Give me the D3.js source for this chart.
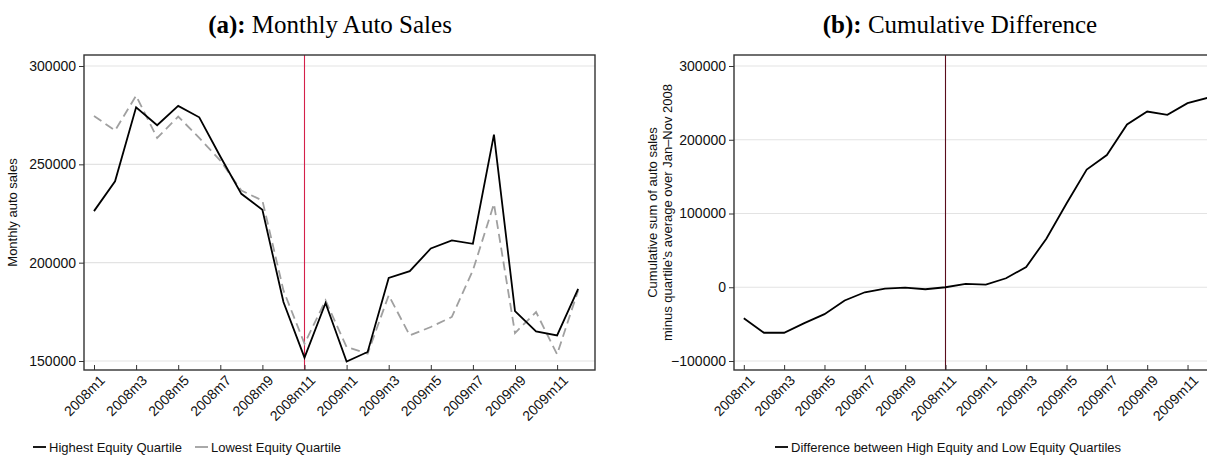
<!DOCTYPE html>
<html><head><meta charset="utf-8">
<script src="https://cdn.jsdelivr.net/npm/d3@7"></script>
<style>
body{margin:0;background:#fff}
text{font-family:"Liberation Sans",Arial,sans-serif}
.title{font-family:"Liberation Serif","DejaVu Serif",serif;font-size:25px}
</style></head><body>
<svg id="c" width="1207" height="459"></svg>
<script>
const months = ["2008m1","2008m2","2008m3","2008m4","2008m5","2008m6","2008m7","2008m8","2008m9","2008m10","2008m11","2008m12",
  "2009m1","2009m2","2009m3","2009m4","2009m5","2009m6","2009m7","2009m8","2009m9","2009m10","2009m11","2009m12"];
const highEquity = [226200,241400,279000,269900,279700,273900,254000,235000,226900,180000,151700,179500,
  149700,154600,192200,195700,207200,211300,209600,265100,175400,165100,163000,186700];
const lowEquity = [274600,267200,284900,263400,274300,263400,251900,236700,231600,185900,158800,180800,
  157100,153700,183400,163000,167300,172400,196100,229900,164200,174900,153400,185900];
const cumDiff = [-41900,-61700,-61700,-48600,-36500,-18000,-6800,-1800,-500,-2700,0,4500,
  3600,12200,27500,65800,113500,159500,179300,220700,238300,233800,249600,256800];
const tickMonths = months.filter((d, i) => i % 2 === 0);
const leftTicks = [150000, 200000, 250000, 300000];
const rightTicks = [-100000, 0, 100000, 200000, 300000];

const svg = d3.select("#c");

function panel(opt) {
  const g = svg.append("g");
  const x = d3.scalePoint().domain(months).range([opt.x0, opt.x0 + opt.step * 23]);
  const y = d3.scaleLinear().domain(opt.ydom).range(opt.yrange);
  const top = 55, bottom = 370;
  g.selectAll(".grid").data(opt.yticks).join("line")
    .attr("x1", opt.fl).attr("x2", opt.fr)
    .attr("y1", d => y(d)).attr("y2", d => y(d))
    .attr("stroke", "#e3e3e3").attr("stroke-width", 1.2);
  g.append("line").attr("x1", x("2008m11")).attr("x2", x("2008m11"))
    .attr("y1", top).attr("y2", bottom).attr("stroke", opt.vcol).attr("stroke-width", 1.1);
  const line = d3.line().x((d, i) => x(months[i])).y(d => y(d));
  opt.series.forEach(s => {
    g.append("path").datum(s.data).attr("d", line).attr("fill", "none")
      .attr("stroke", s.color).attr("stroke-width", 1.8)
      .attr("stroke-dasharray", s.dash || null);
  });
  g.append("rect").attr("x", opt.fl).attr("y", top).attr("width", opt.fr - opt.fl).attr("height", bottom - top)
    .attr("fill", "none").attr("stroke", "#333").attr("stroke-width", 1.4);
  const ya = g.append("g").attr("transform", `translate(${opt.fl},0)`)
    .call(d3.axisLeft(y).tickValues(opt.yticks).tickSize(5).tickPadding(3).tickFormat(d => d < 0 ? "\u2212" + Math.abs(d) : d));
  ya.select(".domain").remove();
  ya.selectAll("text").attr("font-size", 14).attr("fill", "#111").attr("font-family", "Liberation Sans, Arial, sans-serif");
  ya.selectAll("line").attr("stroke", "#333");
  const xa = g.append("g").attr("transform", `translate(0,${bottom})`)
    .call(d3.axisBottom(x).tickValues(tickMonths).tickSize(-5).tickPadding(4));
  xa.select(".domain").remove();
  xa.selectAll("line").attr("stroke", "#333");
  xa.selectAll("text").attr("font-size", 14).attr("fill", "#111").attr("font-family", "Liberation Sans, Arial, sans-serif")
    .attr("text-anchor", "end").attr("dy", "0.35em")
    .attr("transform", "translate(5,5) rotate(-45)");
  const t = svg.append("text").attr("class", "title").attr("x", opt.tx).attr("y", 33).attr("text-anchor", "middle");
  t.append("tspan").attr("font-weight", "bold").text(opt.tag);
  t.append("tspan").text(" " + opt.title);
  opt.ylab.forEach((l, i) => {
    svg.append("text").attr("transform", `translate(${opt.ylx + i * 15},${(top + bottom) / 2}) rotate(-90)`)
      .attr("text-anchor", "middle").attr("font-size", 13).attr("fill", "#111").text(l);
  });
  return g;
}

panel({x0: 94, step: 21.05, fl: 84, fr: 595, ydom: [150000, 300000], yrange: [361, 66], yticks: leftTicks,
  vcol: "#d4204a", tx: 330, tag: "(a):", title: "Monthly Auto Sales", ylab: ["Monthly auto sales"], ylx: 17,
  series: [{data: lowEquity, color: "#a0a0a0", dash: "9,5"}, {data: highEquity, color: "#000"}]});
panel({x0: 743.8, step: 20.17, fl: 734, fr: 1230, ydom: [-100000, 300000], yrange: [361, 66], yticks: rightTicks,
  vcol: "#5a0d1c", tx: 960, tag: "(b):", title: "Cumulative Difference",
  ylab: ["Cumulative sum of auto sales", "minus quartile\u2019s average over Jan\u2013Nov 2008"], ylx: 657,
  series: [{data: cumDiff, color: "#000"}]});

const leg = [
  {x: 33, label: "Highest Equity Quartile", color: "#000"},
  {x: 195, label: "Lowest Equity Quartile", color: "#a0a0a0", dash: "9,5"},
  {x: 775, label: "Difference between High Equity and Low Equity Quartiles", color: "#000"}
];
leg.forEach(l => {
  svg.append("line").attr("x1", l.x).attr("x2", l.x + 13).attr("y1", 447).attr("y2", 447)
    .attr("stroke", l.color).attr("stroke-width", 1.8);
  svg.append("text").attr("x", l.x + 16).attr("y", 452).attr("font-size", 13).attr("fill", "#111").text(l.label);
});
</script></body></html>
